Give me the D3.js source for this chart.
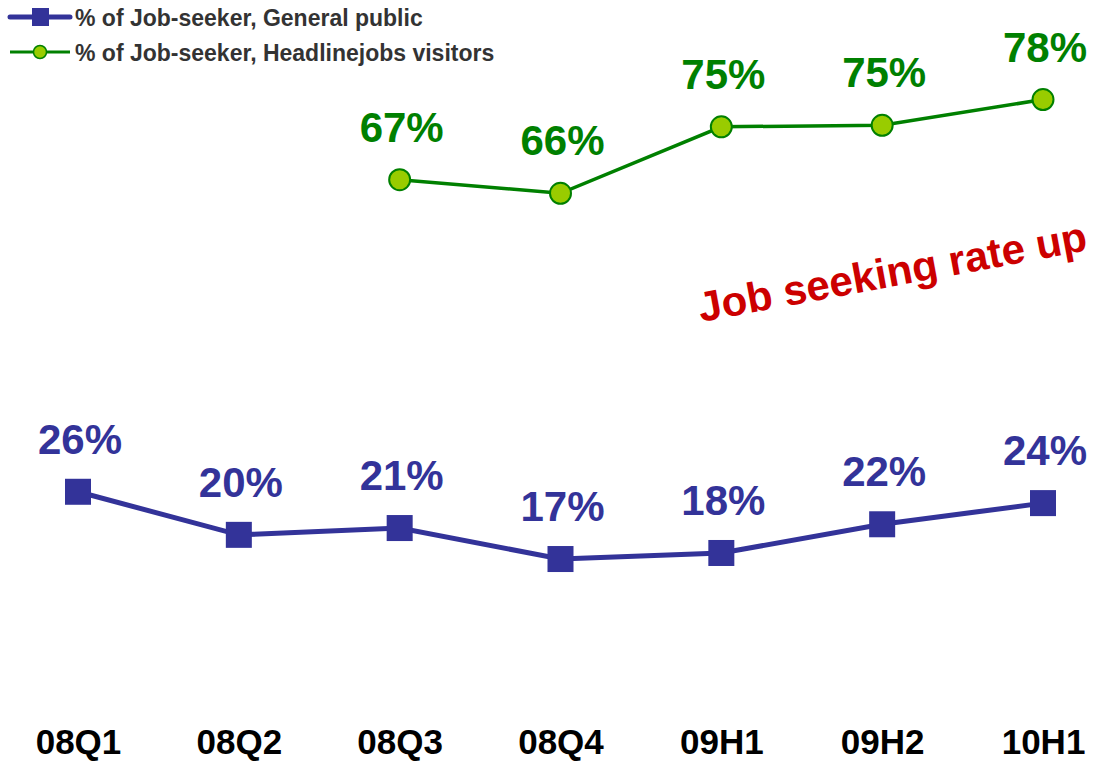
<!DOCTYPE html>
<html>
<head>
<meta charset="utf-8">
<script src="https://cdn.jsdelivr.net/npm/d3@7"></script>
<style>
  body { margin: 0; background: #fff; }
  svg { display: block; font-family: "Liberation Sans", Arial, sans-serif; }
</style>
</head>
<body>
<div id="chart"></div>
<script>
const width = 1095, height = 763;

// data
const periods = ["08Q1", "08Q2", "08Q3", "08Q4", "09H1", "09H2", "10H1"];
const generalPublic = [25.9, 20.2, 21.1, 17.0, 17.8, 21.6, 24.4];
const generalLabels = ["26%", "20%", "21%", "17%", "18%", "22%", "24%"];
const visitors = [null, null, 67.2, 65.4, 74.2, 74.4, 77.8];
const visitorLabels = [null, null, "67%", "66%", "75%", "75%", "78%"];
const seriesNames = ["% of Job-seeker, General public", "% of Job-seeker, Headlinejobs visitors"];

const blue = "#333399", green = "#008000", lime = "#99cc00", red = "#cc0000";

const svg = d3.select("#chart")
  .append("svg")
  .attr("width", width)
  .attr("height", height);

// scales
const x = d3.scalePoint()
  .domain(periods)
  .range([78, 1043]);

const y = d3.scaleLinear()
  .domain([0, 100])
  .range([687.5, -68.2]);

// x axis labels (no axis line)
const xAxis = svg.append("g")
  .attr("transform", `translate(0, 754)`)
  .call(d3.axisBottom(x).tickSize(0).tickPadding(0));
xAxis.select(".domain").remove();
xAxis.selectAll("text")
  .attr("dy", 0)
  .attr("y", 0)
  .attr("font-family", "Liberation Sans, Arial, sans-serif")
  .attr("font-size", "35px")
  .attr("font-weight", "bold")
  .attr("fill", "#000");

// general public line
const gpData = periods.map((p, i) => ({ p, v: generalPublic[i], label: generalLabels[i] }));
svg.append("path")
  .datum(gpData)
  .attr("fill", "none")
  .attr("stroke", blue)
  .attr("stroke-width", 5)
  .attr("d", d3.line().x(d => x(d.p)).y(d => y(d.v)));

svg.selectAll("rect.gp")
  .data(gpData)
  .join("rect")
  .attr("class", "gp")
  .attr("x", d => x(d.p) - 13)
  .attr("y", d => y(d.v) - 13)
  .attr("width", 26)
  .attr("height", 26)
  .attr("fill", blue);

svg.selectAll("text.gp")
  .data(gpData)
  .join("text")
  .attr("class", "gp")
  .attr("x", d => x(d.p) + 2)
  .attr("y", d => y(d.v) - 38)
  .attr("text-anchor", "middle")
  .attr("font-size", "42px")
  .attr("font-weight", "bold")
  .attr("fill", blue)
  .text(d => d.label);

// headlinejobs visitors line
const hvData = periods.map((p, i) => ({ p, v: visitors[i], label: visitorLabels[i] }))
  .filter(d => d.v != null);
svg.append("path")
  .datum(hvData)
  .attr("fill", "none")
  .attr("stroke", green)
  .attr("stroke-width", 3.5)
  .attr("d", d3.line().x(d => x(d.p)).y(d => y(d.v)));

svg.selectAll("circle.hv")
  .data(hvData)
  .join("circle")
  .attr("class", "hv")
  .attr("cx", d => x(d.p))
  .attr("cy", d => y(d.v))
  .attr("r", 10.5)
  .attr("fill", lime)
  .attr("stroke", green)
  .attr("stroke-width", 2);

svg.selectAll("text.hv")
  .data(hvData)
  .join("text")
  .attr("class", "hv")
  .attr("x", d => x(d.p) + 2)
  .attr("y", d => y(d.v) - 38)
  .attr("text-anchor", "middle")
  .attr("font-size", "42px")
  .attr("font-weight", "bold")
  .attr("fill", green)
  .text(d => d.label);

// annotation
svg.append("text")
  .attr("transform", "translate(701, 322) rotate(-10.5)")
  .attr("font-size", "42px")
  .attr("font-weight", "bold")
  .attr("fill", red)
  .text("Job seeking rate up");

// legend
const legend = svg.append("g");
const row1 = legend.append("g").attr("transform", "translate(0, 17)");
row1.append("line")
  .attr("x1", 10).attr("x2", 70)
  .attr("stroke", blue).attr("stroke-width", 5).attr("stroke-linecap", "round");
row1.append("rect")
  .attr("x", 32).attr("y", -9).attr("width", 17).attr("height", 18)
  .attr("fill", blue);
row1.append("text")
  .attr("x", 75).attr("y", 9)
  .attr("font-size", "23px").attr("font-weight", "bold").attr("fill", "#333")
  .text(seriesNames[0]);

const row2 = legend.append("g").attr("transform", "translate(0, 52)");
row2.append("line")
  .attr("x1", 10).attr("x2", 70)
  .attr("stroke", green).attr("stroke-width", 3);
row2.append("circle")
  .attr("cx", 40).attr("r", 6.5)
  .attr("fill", lime).attr("stroke", green).attr("stroke-width", 1.5);
row2.append("text")
  .attr("x", 75).attr("y", 9)
  .attr("font-size", "23px").attr("font-weight", "bold").attr("fill", "#333")
  .text(seriesNames[1]);
</script>
</body>
</html>
